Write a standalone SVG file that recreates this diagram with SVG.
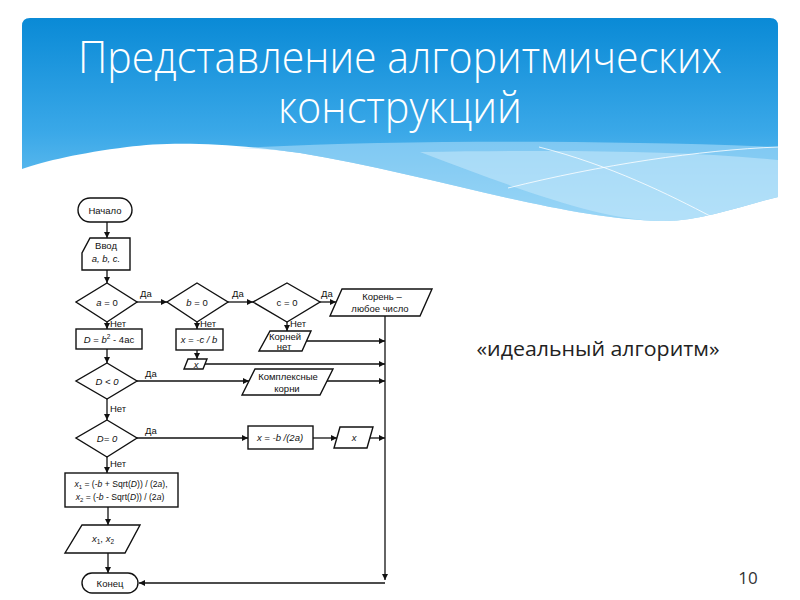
<svg xmlns="http://www.w3.org/2000/svg" width="800" height="600" viewBox="0 0 800 600">
<defs>
<linearGradient id="hdr" x1="0" y1="18" x2="0" y2="225" gradientUnits="userSpaceOnUse">
<stop offset="0" stop-color="#0a8ad6"/>
<stop offset="0.55" stop-color="#3aa8e8"/>
<stop offset="1" stop-color="#7ccaf3"/>
</linearGradient>
<marker id="ah" viewBox="0 0 10 10" refX="10" refY="5" markerWidth="7" markerHeight="6" markerUnits="userSpaceOnUse" orient="auto">
<path d="M0,0 L10,5 L0,10 Z" fill="#111"/>
</marker>
</defs>
<style>
.shape{fill:#fff;stroke:#111;stroke-width:1.4}
.conn line,.conn polyline{stroke:#111;stroke-width:1.3;fill:none;marker-end:url(#ah)}
.t{font-family:"Liberation Sans",Arial,sans-serif;font-size:9.5px;fill:#111;text-anchor:middle}
.s{font-size:8.6px}
.lbl{font-family:"Liberation Sans",Arial,sans-serif;font-size:9.5px;fill:#111}
.i{font-style:italic}
.title{font-family:"Open Sans","Noto Sans",sans-serif;font-weight:300;font-size:44px;fill:#fff;text-anchor:middle}
</style>
<rect width="800" height="600" fill="#fff"/>
<!-- header -->
<path d="M30,18 H770 Q778,18 778,26 V197 C740,206 700,222 661,221 C560,219 420,172 300,153 C230,143 170,141 127,147 C80,153 45,161 22,169 V26 Q22,18 30,18 Z" fill="url(#hdr)"/>
<path d="M239,148 C400,140 600,140 778,147 V197 C740,206 700,222 661,221 C560,219 420,172 300,153 C280,150 260,149 239,148 Z" fill="#b3e0f9" opacity="0.55"/>
<path d="M420,152 C560,150 680,150 778,160 V197 C740,206 700,222 661,221 C600,220 520,190 420,152 Z" fill="#cdebfb" opacity="0.5"/>
<path d="M508,188 C600,165 700,150 778,147" fill="none" stroke="#fff" stroke-width="1" opacity="0.8"/>
<path d="M539,147 C610,165 670,195 712,217" fill="none" stroke="#fff" stroke-width="1" opacity="0.8"/>
<text class="title" x="400" y="73" textLength="644" lengthAdjust="spacingAndGlyphs">Представление алгоритмических</text>
<text class="title" x="400" y="123" textLength="244" lengthAdjust="spacingAndGlyphs">конструкций</text>
<!-- connectors -->
<g id="connectors" class="conn">
<line x1="107" y1="222" x2="107" y2="238"/>
<line x1="107" y1="270" x2="107" y2="283"/>
<line x1="137" y1="302" x2="167" y2="302"/>
<line x1="228" y1="302" x2="253" y2="302"/>
<line x1="320" y1="302" x2="336" y2="302"/>
<line x1="107" y1="322" x2="107" y2="329"/>
<line x1="197" y1="322" x2="197" y2="329"/>
<line x1="287" y1="322" x2="287" y2="331"/>
<line x1="197" y1="350" x2="197" y2="359"/>
<line x1="306" y1="341" x2="385" y2="341"/>
<line x1="205" y1="364" x2="385" y2="364"/>
<line x1="107" y1="349" x2="107" y2="363"/>
<line x1="137" y1="381" x2="249" y2="381"/>
<line x1="327" y1="381" x2="385" y2="381"/>
<line x1="107" y1="399" x2="107" y2="420"/>
<line x1="137" y1="438" x2="248" y2="438"/>
<line x1="313" y1="438" x2="337" y2="438"/>
<line x1="370" y1="438" x2="385" y2="438"/>
<line x1="107" y1="457" x2="107" y2="473"/>
<line x1="108" y1="507" x2="108" y2="525"/>
<line x1="108" y1="553" x2="108" y2="573"/>
<line x1="385" y1="316" x2="385" y2="580"/>
<polyline points="385,583 139,583"/>
</g>
<g id="labels" class="lbl">
<text x="140" y="297">Да</text>
<text x="232" y="297">Да</text>
<text x="321" y="297">Да</text>
<text x="110" y="327">Нет</text>
<text x="200" y="327">Нет</text>
<text x="290" y="327">Нет</text>
<text x="145" y="377">Да</text>
<text x="110" y="412">Нет</text>
<text x="145" y="434">Да</text>
<text x="110" y="467">Нет</text>
</g>
<!-- nodes -->
<g id="start"><rect class="shape" x="78" y="198" width="54" height="24" rx="12"/><text class="t" x="105" y="213.5">Начало</text></g>
<g id="input"><path class="shape" d="M90,238 H130 V270 H82 V253 Z"/><text class="t" x="106" y="249">Ввод</text><text class="t i" x="106" y="262">a, b, c.</text></g>
<g id="d1"><polygon class="shape" points="107,283 137,302 107,322 76,302"/><text class="t" x="107" y="305.5"><tspan class="i">a</tspan> = 0</text></g>
<g id="d2"><polygon class="shape" points="197,283 228,302 197,322 167,302"/><text class="t" x="197" y="305.5"><tspan class="i">b</tspan> = 0</text></g>
<g id="d3"><polygon class="shape" points="287,283 320,302 287,322 253,302"/><text class="t" x="287" y="305.5">c = 0</text></g>
<g id="out1"><polygon class="shape" points="342,289 432,289 420,316 330,316"/><text class="t" x="382" y="300">Корень –</text><text class="t" x="380" y="312">любое число</text></g>
<g id="box1"><rect class="shape" x="76" y="329" width="66" height="20"/><text class="t" x="109" y="342.5"><tspan class="i">D</tspan> = <tspan class="i">b</tspan><tspan font-size="6.5" dy="-3.5">2</tspan><tspan dy="3.5"> - 4ac</tspan></text></g>
<g id="box2"><rect class="shape" x="176" y="329" width="47" height="21"/><text class="t i" x="199" y="343">x = -c / b</text></g>
<g id="out2"><polygon class="shape" points="188,359 207,359 203,369 184,369"/><text class="t i" x="196" y="367.5">x</text></g>
<g id="out_nokorn"><polygon class="shape" points="270,331 311,331 302,351 259,351"/><text class="t" x="285" y="340">Корней</text><text class="t" x="284" y="349.5">нет</text></g>
<g id="d4"><polygon class="shape" points="107,363 137,381 107,399 76,381"/><text class="t i" x="107" y="384.5">D &lt; 0</text></g>
<g id="out3"><polygon class="shape" points="255,369 333,369 320,395 242,395"/><text class="t" x="288" y="380">Комплексные</text><text class="t" x="287" y="392">корни</text></g>
<g id="d5"><polygon class="shape" points="107,420 137,438 107,457 76,438"/><text class="t i" x="107" y="441.5">D= 0</text></g>
<g id="box3"><rect class="shape" x="248" y="426" width="65" height="23"/><text class="t i" x="280" y="441">x = -b /(2a)</text></g>
<g id="out4"><polygon class="shape" points="340,427 373,427 367,448 334,448"/><text class="t i" x="354" y="441">x</text></g>
<g id="box4"><rect class="shape" x="65" y="473" width="113" height="34"/>
<text class="t s" x="121" y="487"><tspan class="i">x</tspan><tspan font-size="6" dy="2">1</tspan><tspan dy="-2"> = (-</tspan><tspan class="i">b</tspan> + Sqrt(<tspan class="i">D</tspan>)) / (2<tspan class="i">a</tspan>),</text>
<text class="t s" x="120" y="500"><tspan class="i">x</tspan><tspan font-size="6" dy="2">2</tspan><tspan dy="-2"> = (-</tspan><tspan class="i">b</tspan> - Sqrt(<tspan class="i">D</tspan>)) / (2<tspan class="i">a</tspan>)</text></g>
<g id="out5"><polygon class="shape" points="82,525 140,525 125,553 65,553"/><text class="t" x="103" y="542"><tspan class="i">x</tspan><tspan font-size="6.5" dy="2">1</tspan><tspan dy="-2">, </tspan><tspan class="i">x</tspan><tspan font-size="6.5" dy="2">2</tspan></text></g>
<g id="end"><rect class="shape" x="82" y="573" width="56" height="20" rx="10"/><text class="t" x="110" y="586.5">Конец</text></g>
<text x="598" y="356" font-family="'Open Sans','Noto Sans',sans-serif" font-size="20" fill="#222" text-anchor="middle" textLength="243" lengthAdjust="spacingAndGlyphs">«идеальный алгоритм»</text>
<text x="748" y="584" font-family="'Open Sans','Noto Sans',sans-serif" font-size="17" fill="#333" text-anchor="middle">10</text>
</svg>
